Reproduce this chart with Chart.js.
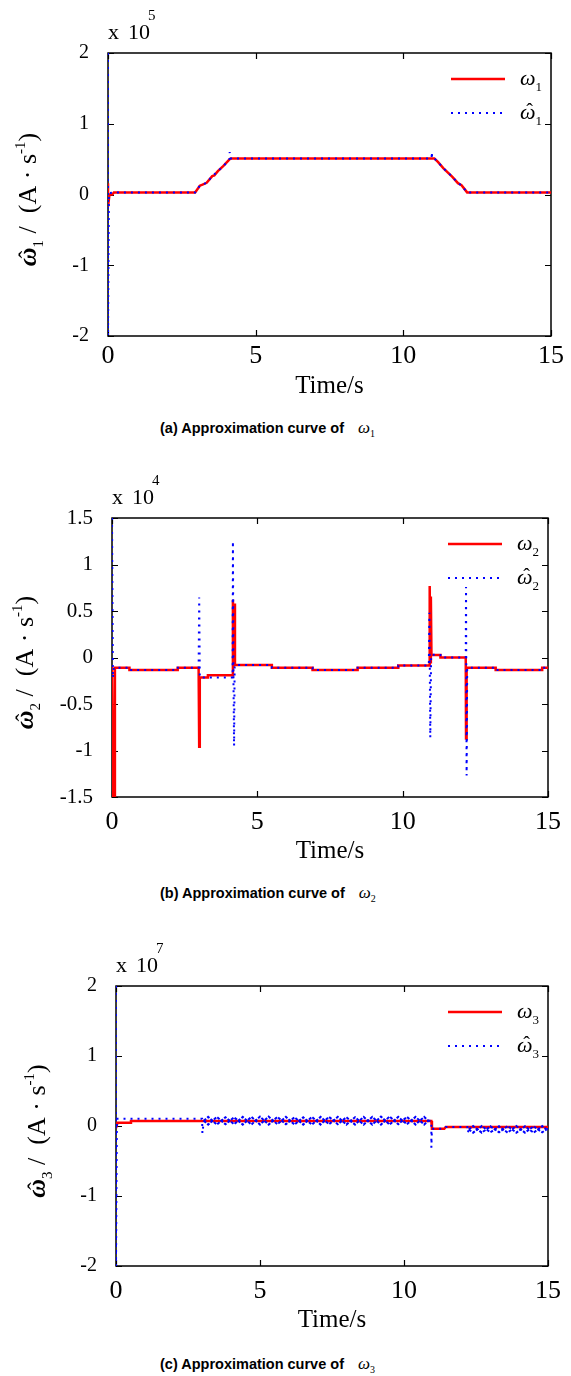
<!DOCTYPE html>
<html>
<head>
<meta charset="utf-8">
<script src="https://cdn.jsdelivr.net/npm/chart.js@4.4.0/dist/chart.umd.min.js"></script>
<style>
  html, body { margin: 0; padding: 0; background: #fff; }
  body { position: relative; width: 571px; height: 1376px; overflow: hidden; }
  canvas { position: absolute; left: 0; }
  .caption { position: absolute; left: 160px; font: bold 14.5px "Liberation Sans", Arial, sans-serif; line-height: 16px; color: #000; white-space: nowrap; }
  .caption i { font: italic 17px "Liberation Serif", "Times New Roman", serif; margin-left: 10px; }
  .caption .sub { font: 10px "Liberation Serif", serif; position: relative; top: 4px; }
</style>
</head>
<body>
<canvas id="chart1" width="571" height="405" style="top:0px"></canvas>
<div class="caption" style="top:418px">(a) Approximation curve of <i>ω</i><span class="sub">1</span></div>

<canvas id="chart2" width="571" height="405" style="top:465px"></canvas>
<div class="caption" style="top:883px">(b) Approximation curve of <i>ω</i><span class="sub">2</span></div>

<canvas id="chart3" width="571" height="405" style="top:935px"></canvas>
<div class="caption" style="top:1354px">(c) Approximation curve of <i>ω</i><span class="sub">3</span></div>

<script>
// ---- data: [time in s, value in units of the multiplier shown above each plot] ----
const xTicks = [0, 5, 10, 15];
const yTicks1 = [-2, -1, 0, 1, 2];
const yTicks2 = [-1.5, -1, -0.5, 0, 0.5, 1, 1.5];
const yTicks3 = [-2, -1, 0, 1, 2];

// (a) x 10^5
const w1 = [[0, 0.16], [0, -0.17], [0.05, 0], [0.15, 0], [0.2, 0.03], [2.95, 0.03], [3.11, 0.125], [3.2, 0.14],
  [3.34, 0.165], [3.53, 0.26], [3.6, 0.27], [3.72, 0.33], [3.9, 0.4], [4.09, 0.485], [4.15, 0.51], [11.05, 0.51],
  [11.17, 0.46], [11.36, 0.37], [11.66, 0.25], [11.85, 0.16], [11.97, 0.13], [12.16, 0.03], [15, 0.03]];
const w1Hat = [[0, 2], [0, -2], [0.03, 0.02], [0.2, 0.03], [2.95, 0.03], [3.11, 0.125], [3.34, 0.165], [3.53, 0.26],
  [3.72, 0.33], [3.9, 0.4], [4.09, 0.485], [4.12, 0.51], [4.12, 0.6], [4.14, 0.51], [10.96, 0.51], [10.96, 0.6],
  [10.98, 0.51], [11.05, 0.51], [11.17, 0.46], [11.36, 0.37], [11.66, 0.25], [11.85, 0.16], [11.97, 0.13],
  [12.16, 0.03], [15, 0.03]];

// (b) x 10^4
const w2 = [[0, -0.1], [0.04, -1.5], [0.08, -1.5], [0.1, -0.11], [0.6, -0.11], [0.6, -0.135], [2.26, -0.135],
  [2.26, -0.11], [2.98, -0.11], [3.0, -0.96], [3.02, -0.215], [3.3, -0.215], [3.3, -0.19], [4.15, -0.19],
  [4.16, 0.62], [4.19, -0.1], [4.21, 0.58], [4.23, -0.08], [5.5, -0.08], [5.5, -0.11], [6.9, -0.11],
  [6.9, -0.135], [8.45, -0.135], [8.45, -0.11], [9.85, -0.11], [9.85, -0.085], [10.92, -0.085], [10.93, 0.77],
  [10.95, -0.05], [10.97, 0.655], [10.99, 0.027], [11.3, 0.027], [11.3, 0], [12.17, 0], [12.18, -0.87],
  [12.2, -0.11], [13.2, -0.11], [13.2, -0.135], [14.8, -0.135], [14.8, -0.11], [15, -0.11]];
const w2Hat = [[0, 1.5], [0.03, -0.22], [0.06, -0.11], [0.6, -0.11], [0.6, -0.135], [2.2, -0.135], [2.2, -0.11],
  [2.98, -0.11], [3.0, 0.645], [3.02, -0.215], [4.15, -0.215], [4.16, 1.25], [4.18, -0.3], [4.2, -0.95],
  [4.22, -0.08], [5.5, -0.08], [5.5, -0.11], [6.9, -0.11], [6.9, -0.135], [8.45, -0.135], [8.45, -0.11],
  [9.85, -0.11], [9.85, -0.085], [10.9, -0.085], [10.92, 0.48], [10.95, -0.86], [10.98, 0.03], [11.3, 0.027],
  [11.3, 0], [12.17, 0], [12.18, 0.757], [12.2, -1.27], [12.22, -0.11], [13.2, -0.11], [13.2, -0.135],
  [14.8, -0.135], [14.8, -0.11], [15, -0.11]];

// (c) x 10^7
const w3 = [[0, -0.03], [0.05, 0.045], [0.5, 0.045], [0.52, 0.07], [10.95, 0.07], [10.97, -0.04], [11.4, -0.04],
  [11.45, -0.015], [15, -0.015]];
// where the estimate ripples it is drawn as two traces in antiphase (the small loops)
const loopT3a = [3.2, 3.5, 3.8, 4.1, 4.4, 4.7, 5.0, 5.3, 5.6, 5.9, 6.2, 6.5, 6.8, 7.1, 7.4, 7.7, 8.0, 8.3, 8.6,
  8.9, 9.2, 9.5, 9.8, 10.1, 10.4, 10.7];
const loopA3a = [0.13, 0.02, 0.125, 0.025, 0.13, 0.02, 0.135, 0.02, 0.13, 0.025, 0.125, 0.02, 0.13, 0.02, 0.13,
  0.025, 0.125, 0.02, 0.13, 0.02, 0.135, 0.02, 0.13, 0.025, 0.13, 0.02];
const loopB3a = [0.02, 0.13, 0.025, 0.125, 0.02, 0.13, 0.02, 0.135, 0.025, 0.13, 0.02, 0.125, 0.02, 0.13, 0.025,
  0.13, 0.02, 0.125, 0.02, 0.13, 0.02, 0.135, 0.025, 0.13, 0.02, 0.13];
const loopT3b = [12.4, 12.7, 13.0, 13.3, 13.6, 13.9, 14.2, 14.5, 14.8];
const loopA3b = [0.0, -0.095, -0.005, -0.09, 0.0, -0.095, -0.005, -0.095, 0.0];
const loopB3b = [-0.095, 0.0, -0.09, -0.005, -0.095, 0.0, -0.095, -0.005, -0.09];
const w3HatHead = [[0, 2], [0, -2], [0.03, 0.105], [2.99, 0.105], [3.0, -0.105], [3.05, 0.075]];
const w3HatMid = [[10.85, 0.075], [10.95, 0.075], [10.95, -0.31], [10.97, -0.04], [11.4, -0.04], [11.45, -0.015],
  [12.2, -0.015], [12.22, -0.095], [12.25, -0.05]];
const w3HatTail = [[14.95, -0.05], [15, -0.04]];

const zip = (ts, vs) => ts.map((t, i) => [t, vs[i]]);
const w3Hat = [...w3HatHead, [3.1, null], ...w3HatMid, [12.3, null], ...w3HatTail];
const w3LoopA = [[3.05, 0.075], ...zip(loopT3a, loopA3a), [10.85, 0.075], [11.5, null],
  [12.25, -0.05], ...zip(loopT3b, loopA3b), [14.95, -0.05]];
const w3LoopB = [[3.05, 0.075], ...zip(loopT3a, loopB3a), [10.85, 0.075], [11.5, null],
  [12.25, -0.05], ...zip(loopT3b, loopB3b), [14.95, -0.05]];

// ---- styling ----
const redColor = '#ff0000';
const blueColor = '#0000ff';
const serif = '"Liberation Serif", "Times New Roman", serif';

const toXY = pts => pts.map(([x, y]) => ({ x: x, y: y }));

// draws omega (optionally with a hat) plus a subscript, returns the end x
function drawOmega(ctx, x, y, size, hat, index, bold) {
    ctx.font = 'italic ' + (bold ? 'bold ' : '') + size + 'px ' + serif;
    ctx.fillText('ω', x, y);
    const w = ctx.measureText('ω').width;
    if (hat) {
        ctx.font = Math.round(size * 0.9) + 'px ' + serif;
        const hw = ctx.measureText('ˆ').width;
        ctx.fillText('ˆ', x + (w - hw) / 2 + size * 0.08, y - size * 0.05);
    }
    ctx.font = Math.round(size * 0.58) + 'px ' + serif;
    ctx.fillText(index, x + w, y + size * 0.28);
    return x + w + ctx.measureText(index).width;
}

// box, inward ticks, multiplier, y title and legend, drawn the MATLAB way
const matlabFrame = {
    id: 'matlabFrame',
    beforeDatasetsDraw(chart) {
        const { ctx, chartArea: a, scales } = chart;
        ctx.save();
        ctx.strokeStyle = '#000';
        ctx.lineWidth = 1.5;
        ctx.strokeRect(a.left, a.top, a.right - a.left, a.bottom - a.top);
        ctx.lineWidth = 1.2;
        ctx.beginPath();
        scales.x.ticks.forEach(t => {
            const px = Math.round(scales.x.getPixelForValue(t.value)) + 0.5;
            ctx.moveTo(px, a.bottom); ctx.lineTo(px, a.bottom - 6);
            ctx.moveTo(px, a.top); ctx.lineTo(px, a.top + 6);
        });
        scales.y.ticks.forEach(t => {
            const py = Math.round(scales.y.getPixelForValue(t.value)) + 0.5;
            ctx.moveTo(a.left, py); ctx.lineTo(a.left + 6, py);
            ctx.moveTo(a.right, py); ctx.lineTo(a.right - 6, py);
        });
        ctx.stroke();
        ctx.restore();
    },
    afterDraw(chart, args, opts) {
        const { ctx, chartArea: a } = chart;
        ctx.save();
        ctx.fillStyle = '#000';
        ctx.textBaseline = 'alphabetic';

        // axis multiplier
        ctx.font = '22px ' + serif;
        ctx.fillText('x', a.left, a.top - 14);
        ctx.fillText('10', a.left + 20, a.top - 14);
        const w = 20 + ctx.measureText('10').width;
        ctx.font = '15px ' + serif;
        ctx.fillText(opts.exponent, a.left + w - 2, a.top - 33);

        // y axis title, rotated
        const parts = [
            { text: ' /  (A · s', font: '26px ' + serif, dy: 0 },
            { text: '-1', font: '15px ' + serif, dy: -11 },
            { text: ')', font: '26px ' + serif, dy: 0 }
        ];
        ctx.font = 'italic bold 26px ' + serif;
        let total = ctx.measureText('ω').width;
        ctx.font = '15px ' + serif;
        total += ctx.measureText(opts.index).width;
        parts.forEach(p => { ctx.font = p.font; total += ctx.measureText(p.text).width; });
        ctx.save();
        ctx.translate(opts.titleX + 8, (a.top + a.bottom) / 2 + opts.titleShift);
        ctx.rotate(-Math.PI / 2);
        let x = drawOmega(ctx, -total / 2, 0, 26, true, opts.index, true);
        parts.forEach(p => {
            ctx.font = p.font;
            ctx.fillText(p.text, x, p.dy);
            x += ctx.measureText(p.text).width;
        });
        ctx.restore();

        // legend
        const sets = chart.data.datasets;
        [0, 1].forEach(i => {
            const ds = sets[i];
            const y = a.top + 26 + i * 34;
            ctx.beginPath();
            ctx.setLineDash(ds.borderDash || []);
            ctx.strokeStyle = ds.borderColor;
            ctx.lineWidth = ds.borderWidth;
            ctx.moveTo(a.right - 100, y);
            ctx.lineTo(a.right - 46, y);
            ctx.stroke();
            ctx.setLineDash([]);
            drawOmega(ctx, a.right - 31, y + 6, 22, i === 1, opts.index, false);
        });
        ctx.restore();
    }
};

function makeChart(p) {
    const ctx = document.getElementById(p.id).getContext('2d');
    const datasets = [{
        label: 'ω' + p.index,
        data: toXY(p.series),
        borderColor: redColor,
        borderWidth: 2.5,
        order: 2
    }, {
        label: 'ω̂' + p.index,
        data: toXY(p.estimate),
        borderColor: blueColor,
        borderWidth: 2,
        borderDash: [2, 5],
        order: 1
    }];
    (p.loops || []).forEach(trace => {
        datasets.push({
            label: '',
            data: toXY(trace),
            borderColor: blueColor,
            borderWidth: 2,
            borderDash: [3, 1.5],
            order: 1
        });
    });
    new Chart(ctx, {
        type: 'line',
        data: { datasets: datasets },
        options: {
            responsive: false,
            animation: false,
            elements: { point: { radius: 0 }, line: { tension: 0 } },
            layout: { padding: { top: p.top, right: p.right, left: 0, bottom: 0 } },
            scales: {
                x: {
                    type: 'linear',
                    min: xTicks[0],
                    max: xTicks[xTicks.length - 1],
                    afterBuildTicks: s => { s.ticks = xTicks.map(v => ({ value: v })); },
                    afterFit: s => { s.height = p.xAxis; },
                    grid: { display: false, drawTicks: false },
                    border: { display: false },
                    ticks: {
                        color: '#000',
                        padding: p.xPad,
                        maxRotation: 0,
                        autoSkip: false,
                        font: { family: serif, size: 26 },
                        callback: v => String(v)
                    },
                    title: {
                        display: true,
                        text: 'Time/s',
                        color: '#000',
                        font: { family: serif, size: 25 },
                        padding: { top: 0, bottom: p.xTitlePad }
                    }
                },
                y: {
                    type: 'linear',
                    min: p.yTicks[0],
                    max: p.yTicks[p.yTicks.length - 1],
                    afterBuildTicks: s => { s.ticks = p.yTicks.map(v => ({ value: v })); },
                    afterFit: s => { s.width = p.left; },
                    grid: { display: false, drawTicks: false },
                    border: { display: false },
                    ticks: {
                        color: '#000',
                        padding: 19,
                        font: { family: serif, size: p.yFont },
                        callback: v => String(v)
                    }
                }
            },
            plugins: {
                legend: { display: false },
                tooltip: { enabled: false },
                matlabFrame: { exponent: p.exponent, index: p.index, titleX: p.titleX, titleShift: 5 }
            }
        },
        plugins: [matlabFrame]
    });
}

makeChart({ id: 'chart1', index: '1', exponent: '5', series: w1, estimate: w1Hat, yTicks: yTicks1,
    top: 53, right: 20, left: 108, xAxis: 69, xPad: 5, xTitlePad: 4, yFont: 20, titleX: 28 });
makeChart({ id: 'chart2', index: '2', exponent: '4', series: w2, estimate: w2Hat, yTicks: yTicks2,
    top: 53, right: 15, left: 112, xAxis: 73, xPad: 10, xTitlePad: 4, yFont: 21, titleX: 25 });
makeChart({ id: 'chart3', index: '3', exponent: '7', series: w3, estimate: w3Hat, loops: [w3LoopA, w3LoopB],
    yTicks: yTicks3, top: 51, right: 13, left: 116, xAxis: 74, xPad: 10, xTitlePad: 5, yFont: 20, titleX: 37 });
</script>
</body>
</html>
